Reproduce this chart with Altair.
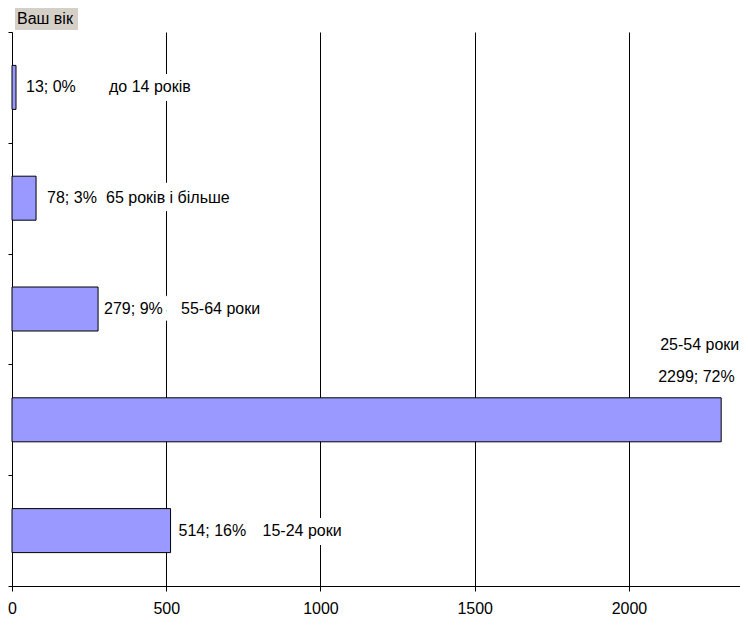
import altair as alt
import pandas as pd

title_text = "Ваш вік"
categories = ["до 14 років", "65 років і більше", "55-64 роки", "25-54 роки", "15-24 роки"]
counts = [13, 78, 279, 2299, 514]
percents = [0, 3, 9, 72, 16]
tick_values = [0, 500, 1000, 1500, 2000]

df = pd.DataFrame({
    "category": categories,
    "count": counts,
    "pct": percents,
})
df["vlabel"] = [f"{c}; {p}%" for c, p in zip(counts, percents)]

FONT = "Liberation Sans"
FS = 16

# label placement (pixel offsets from bar end): (value dx, value dy, cat dx, cat dy)
offsets = {
    "до 14 років": (10, 0, 93, 0),
    "65 років і більше": (11, 0, 70, 0),
    "55-64 роки": (6, 0, 83, 0),
    "25-54 роки": (-63, -43, -61, -75),
    "15-24 роки": (8, 0, 92, 0),
}

x_enc = alt.X(
    "count:Q",
    scale=alt.Scale(domain=[0, 2360], nice=False, zero=True),
    axis=alt.Axis(
        values=tick_values, format="d", grid=True, gridColor="black", gridOpacity=1,
        gridWidth=1, domainColor="black", tickColor="black", tickSize=5,
        labelFontSize=FS, labelFont=FONT, labelColor="black", labelPadding=9,
        labelFlush=False, labelOverlap=False, title=None,
    ),
)
y_enc = alt.Y(
    "category:N",
    sort=categories,
    scale=alt.Scale(paddingInner=0, paddingOuter=0),
    axis=alt.Axis(
        labels=False, title=None, ticks=True, tickSize=4, tickBand="extent",
        domainColor="black", tickColor="black", grid=False,
    ),
)

base = alt.Chart(df)

halo_layers = []
text_layers = []
for cat in categories:
    vdx, vdy, cdx, cdy = offsets[cat]
    sub = base.transform_filter(alt.datum.category == cat)
    for field, dx, dy in (("vlabel", vdx, vdy), ("category", cdx, cdy)):
        halo_layers.append(
            sub.mark_text(
                align="left", baseline="middle", dx=dx, dy=dy, font=FONT, fontSize=FS,
                fill="white", stroke="white", strokeWidth=18, strokeJoin="round",
            ).encode(x=x_enc, y=y_enc, text=f"{field}:N")
        )
        text_layers.append(
            sub.mark_text(
                align="left", baseline="middle", dx=dx, dy=dy, font=FONT, fontSize=FS,
                color="black",
            ).encode(x=x_enc, y=y_enc, text=f"{field}:N")
        )

bars = base.mark_bar(size=44, fill="#9999ff", stroke="black", strokeWidth=1).encode(
    x=x_enc, y=y_enc
)

tdf = pd.DataFrame({"t": [title_text]})
title_box = alt.Chart(tdf).mark_rect(fill="#d4d0c8").encode(
    x=alt.value(3), x2=alt.value(66), y=alt.value(-24), y2=alt.value(-2)
)
title_txt = alt.Chart(tdf).mark_text(
    align="left", baseline="middle", font=FONT, fontSize=FS, color="black"
).encode(x=alt.value(5), y=alt.value(-13), text="t:N")

chart = alt.layer(
    *halo_layers, bars, *text_layers, title_box, title_txt
).properties(
    width=728,
    height=554,
    autosize=alt.AutoSizeParams(type="none"),
    padding={"left": 4, "top": 24, "right": 0, "bottom": 31},
).configure_view(stroke=None)

chart.save("out.html", embed_options={"renderer": "svg", "actions": False})
